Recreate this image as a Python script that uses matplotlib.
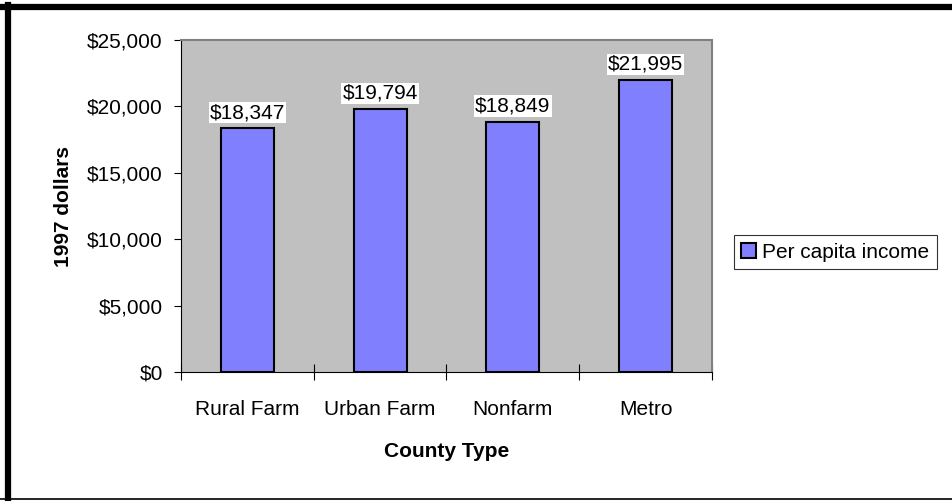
import matplotlib.pyplot as plt
from matplotlib.lines import Line2D
from matplotlib.patches import Patch
from matplotlib.ticker import FuncFormatter, FixedLocator

plt.rcParams['font.family'] = ['Liberation Sans', 'DejaVu Sans']

# per capita income by county type, 1997 dollars
county_types = ['Rural Farm', 'Urban Farm', 'Nonfarm', 'Metro']
income = [18347, 19794, 18849, 21995]

fs = 15

fig = plt.figure(figsize=(9.52, 5.01), dpi=100)
ax = fig.add_axes([0.190, 0.2575, 0.558, 0.6625])
ax.set_facecolor('#C0C0C0')

x = list(range(len(county_types)))
bars = ax.bar(x, income, width=0.4, color='#8080FF', edgecolor='black',
              linewidth=1.5, label='Per capita income', zorder=3)

for xi, v in zip(x, income):
    ax.annotate('${:,}'.format(v), (xi, v), xytext=(0, 4.5), textcoords='offset points',
                ha='center', va='bottom', fontsize=fs,
                bbox=dict(boxstyle='square,pad=0.05', fc='white', ec='none'), zorder=4)

ax.set_xlim(-0.5, len(county_types) - 0.5)
ax.set_ylim(0, 25000)
ax.set_yticks(range(0, 25001, 5000))
ax.yaxis.set_major_formatter(FuncFormatter(lambda v, p: '${:,.0f}'.format(v)))
ax.set_xticks(x)
ax.set_xticklabels(county_types, fontsize=fs)
ax.xaxis.set_minor_locator(FixedLocator([i - 0.5 for i in range(len(county_types) + 1)]))
ax.tick_params(axis='x', which='major', length=0, pad=20)
ax.tick_params(axis='x', which='minor', direction='inout', length=12, width=0.8)
ax.tick_params(axis='y', direction='out', length=5, width=0.8, labelsize=fs, pad=8)

for side in ['top', 'right']:
    ax.spines[side].set_color('#808080')
    ax.spines[side].set_linewidth(1.5)
for side in ['left', 'bottom']:
    ax.spines[side].set_color('black')
    ax.spines[side].set_linewidth(0.8)

ax.set_xlabel('County Type', fontsize=fs, fontweight='bold', labelpad=17)
ax.set_ylabel('1997 dollars', fontsize=fs, fontweight='bold', labelpad=10)

leg = fig.legend(handles=[Patch(facecolor='#8080FF', edgecolor='black', linewidth=1.5,
                                label='Per capita income')],
                 loc='center left', bbox_to_anchor=(0.771, 0.497), fontsize=fs,
                 frameon=True, fancybox=False, handlelength=0.7, handleheight=0.7,
                 handletextpad=0.3, borderpad=0.35, borderaxespad=0)
leg.get_frame().set_edgecolor('black')
leg.get_frame().set_linewidth(0.8)

# outer frame of the chart
fig.add_artist(Line2D([0.0, 1.0], [0.986, 0.986], color='black', lw=4.5))
fig.add_artist(Line2D([0.0085, 0.0085], [0.0, 0.99], color='black', lw=4.5))
fig.add_artist(Line2D([0.0, 1.0], [0.003, 0.003], color='black', lw=1.2))

fig.savefig('out.png', dpi=100)
